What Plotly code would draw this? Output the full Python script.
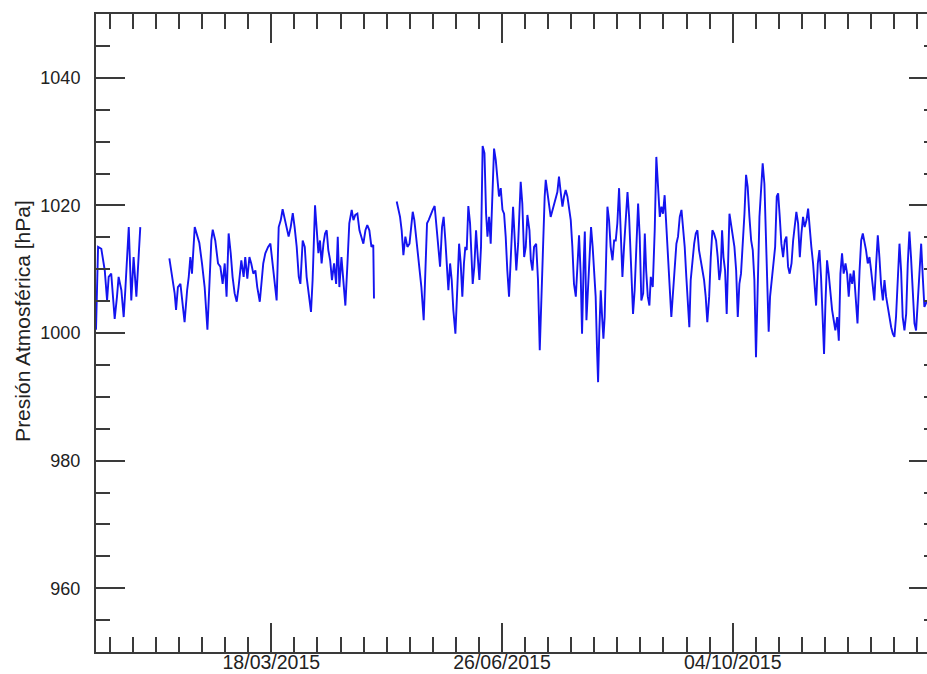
import plotly.graph_objects as go
import pandas as pd

# ---- data (day offsets from 2015-01-01, pressure in hPa) ----
start_date = "2015-01-01"

seg1_days = [0, 0.9, 2.3, 3.8, 4.8, 5.5, 6.6, 8.1, 9.1, 9.8, 11, 12, 12.7, 14.2, 15.3, 16.3, 17.5, 19.2]
seg1_hpa = [1000.5, 1013.5, 1013.2, 1009.8, 1005.1, 1008.8, 1009.3, 1002.2, 1005.7, 1008.8, 1006.7, 1002.5,
            1006.7, 1016.6, 1005.1, 1011.9, 1005.7, 1016.6]

seg2_days = [31.8, 32.9, 34.1, 34.7, 35.5, 36.6, 37.3, 38.4, 39.5, 40.2, 40.9, 41.6, 42.8, 43.8, 44.8, 45.95,
             47.1, 48.3, 49.1, 50, 50.6, 51.7, 52.9, 53.9, 54.9, 55.8, 56.6, 57.5, 58.4, 59.2, 60.1, 61, 61.8,
             63, 64, 64.7, 65.6, 66.5, 67.3, 68.2, 69.1, 69.9, 71, 71.7, 72.5, 73.4, 74.6, 75.6, 76.6, 77.5,
             78.3, 79.2, 80.1, 80.9, 81.8, 82.7, 83.5, 84.4, 85.3, 86.1, 87, 87.9, 88.6,
             89.6, 90.5, 91.3, 92.2, 93.2, 93.9, 94.95, 95.7, 96.4, 97.1, 97.8, 98.6, 99.3, 100, 100.7, 101.5,
             102.3, 103.2, 104.1, 104.8, 105.5, 106.4, 107.2, 108.1, 109, 109.8, 110.85, 111.6, 112.4, 113.3,
             114.2, 115, 115.9, 116.8, 117.6, 118.5, 119.4, 120.2, 120.5]
seg2_hpa = [1011.7, 1008.8, 1006.2, 1003.6, 1007.2, 1007.7, 1005.1, 1001.7, 1006.7, 1008.8, 1011.9, 1009.3,
            1016.6, 1015.1, 1014.1, 1010.9, 1007.2, 1000.5, 1008.3, 1014.5, 1016.2, 1014.5, 1010.9, 1010.4,
            1007.7, 1010.9, 1005.7, 1015.6, 1012.5, 1008.8, 1006.2, 1004.9, 1007.2, 1011.4, 1008.8, 1011.9,
            1008.5, 1011.9, 1010.9, 1009.3, 1009.8, 1007.2, 1004.9, 1007.7, 1010.9, 1012.5, 1013.5, 1014.0,
            1010.4, 1007.7, 1005.1, 1016.6, 1017.7, 1019.4, 1017.7, 1016.1, 1015.1, 1016.6, 1018.8, 1016.6,
            1013.5, 1008.8, 1007.7,
            1014.5, 1013.5, 1008.8, 1006.2, 1003.3, 1008.3, 1020.0, 1016.1, 1012.5, 1014.5, 1010.9, 1014.0,
            1015.6, 1016.1, 1013.0, 1011.4, 1008.3, 1010.9, 1007.7, 1015.1, 1007.2, 1011.9, 1008.8, 1004.3,
            1010.9, 1017.2, 1019.3, 1017.7, 1018.5, 1018.7, 1016.1, 1015.1, 1014.0, 1016.1, 1016.9, 1016.1,
            1013.5, 1013.8, 1005.4]

seg3_days = [130.35, 131.1, 131.8, 132.5, 133.25, 134.1, 135, 135.9, 136.6, 137.3, 138, 138.7, 139.5, 140.2,
             141.05, 142.05, 142.8, 143.5, 144.2, 145.1, 145.96, 146.8, 147.7, 148.6, 149.15, 150, 150.7,
             151.45, 152, 152.75, 153.5, 154.2, 154.9, 155.8, 156.7, 157.4, 158.1, 158.8, 159.5, 160.1, 160.7,
             161.4, 162.15, 162.7, 163.3, 164, 164.75, 165.5, 166.2, 166.9, 167.6, 168.4, 169.1, 169.7, 170.4,
             171.1, 171.8, 172.55, 173.3, 174, 174.7, 175.45, 176.2, 176.9, 177.6, 178.3, 179.05,
             180.8, 181.5, 182.2, 183, 184.1, 184.8, 185.6, 186.3, 187, 187.9, 188.5, 189.2, 189.9, 190.8,
             191.6, 192.36, 193.1, 193.8, 194.5, 194.96, 196, 197.1, 200, 200.7, 201.5, 202.2, 202.9, 203.6,
             204.35, 205.1, 205.8, 206.5, 207.2, 208, 208.7, 209.4, 210.1, 210.7, 211.4, 211.9, 212.6, 213.3,
             214, 214.6, 215.3, 215.9, 216.6, 217.2, 217.65, 218.2, 218.8, 219.4, 219.96, 220.5, 221.1, 221.7,
             222.4, 223.1, 223.9, 224.6, 225.3, 226, 226.75, 227.5, 228.2, 228.9, 229.6, 230.4, 231.1, 231.8,
             232.4, 232.8, 233.5, 234.3, 235, 235.7, 236.4, 237.2, 237.9, 238.5, 239.2, 239.9, 240.5, 241.35,
             242.2, 242.9, 243.7, 244.4, 245.1, 245.8, 246.5, 247.3, 248, 248.7, 249.4, 250.2, 250.9, 251.6,
             252.3, 253.05, 253.8, 254.5, 255.2, 255.9, 256.7, 257.2, 257.8, 258.5, 259.3, 260, 260.7, 261.4,
             262.2, 262.9, 263.6, 264.3, 265, 265.8, 266.5, 267.2, 267.9,
             268.8, 269.5, 270.2, 270.8, 271.4, 272, 272.7, 273.4, 274, 274.6, 276.75, 277.5, 278.2, 278.9,
             279.6, 280.4, 281.1, 281.8, 282.5, 283.25, 284, 284.7, 285.4, 286.1, 286.9, 287.6, 288.3, 289,
             289.75, 290.5, 291.2, 291.6, 292.2, 292.9, 293.65, 294.4, 295.1, 295.7, 296.4, 297.1, 297.85,
             298.6, 299.3, 300, 300.7, 301.5, 302.2, 302.9, 303.6, 304.35, 305.1, 305.8, 306.5, 307.2, 308,
             308.7, 309.4, 310.1, 310.85, 311.6, 312.15, 312.9, 313.6, 314.3, 315, 315.6, 316.2, 316.9, 317.6,
             318.4, 319.1, 319.8, 320.5, 321.3, 322, 322.7, 323.4, 324.1, 324.9, 325.6, 326.3, 327, 327.8,
             328.5, 329.2, 330.1, 331, 331.7, 332.4, 333.1, 333.8, 334.55, 335.3, 336, 336.7, 337.4, 338.2,
             338.9, 339.6, 340.3, 341.1, 341.8, 342.5, 343.2, 344, 344.7, 345.4, 346.1, 346.8, 347.6, 348.3,
             349, 349.7, 350.45, 351.2, 351.9, 352.6, 353.3, 354.05, 354.8, 355.5, 356.2, 357, 357.7, 358.4,
             359.1, 360.3]
seg3_hpa = [1020.6, 1019.3, 1018.2, 1016.1, 1012.2, 1015.1, 1013.5, 1014.0, 1017.2, 1019.0, 1017.7, 1015.1,
            1013.0, 1009.8, 1007.2, 1002.0, 1009.3, 1017.2, 1017.7, 1018.7, 1019.3, 1019.9, 1016.1, 1011.4,
            1010.4, 1016.6, 1018.2, 1014.5, 1010.9, 1006.7, 1010.9, 1008.3, 1003.6, 999.9, 1007.7, 1014.0,
            1010.9, 1005.7, 1010.9, 1013.5, 1013.0, 1019.9, 1017.2, 1010.9, 1007.7, 1010.4, 1016.1, 1011.9,
            1008.3, 1013.5, 1029.3, 1028.2, 1018.7, 1015.1, 1018.2, 1014.0, 1021.4, 1028.9, 1027.1, 1023.4,
            1021.4, 1022.7, 1019.3, 1018.7, 1015.1, 1009.8, 1005.7,
            1019.8, 1015.6, 1009.8, 1014.0, 1023.7, 1020.3, 1011.9, 1013.5, 1018.5, 1016.1, 1011.4, 1009.8,
            1013.5, 1014.0, 1008.3, 997.3, 1005.7, 1016.1, 1021.4, 1024.0, 1021.4, 1018.2, 1022.1, 1024.5,
            1021.9, 1019.8, 1021.4, 1022.4, 1021.4, 1019.3, 1017.7, 1013.5, 1007.7, 1005.7, 1011.4, 1015.3,
            1009.3, 999.9, 1010.9, 1015.9, 1002.0, 1007.2, 1011.9, 1016.6, 1013.5, 1009.8, 1005.7, 997.3,
            992.3, 1000.4, 1006.7, 1002.5, 999.1, 1002.5, 1011.9, 1019.8, 1017.7, 1013.5, 1011.4, 1014.5,
            1014.5, 1017.2, 1022.7, 1014.5, 1008.8, 1013.5, 1017.7, 1022.1, 1018.2, 1010.9, 1006.7, 1003.0,
            1006.7, 1014.0, 1020.3, 1015.1, 1005.1, 1006.2, 1015.6, 1009.8, 1005.7, 1004.3, 1008.8, 1007.2,
            1016.1, 1027.6, 1022.4, 1018.2, 1019.8, 1018.7, 1021.6, 1016.6, 1011.9, 1007.2, 1002.5, 1006.7,
            1009.8, 1014.0, 1015.1, 1018.2, 1019.3, 1016.6, 1013.5, 1008.8, 1004.6, 1000.9, 1008.3, 1011.4,
            1014.0, 1015.6, 1016.1, 1013.0, 1010.9, 1009.8, 1008.3, 1005.7, 1001.7, 1005.7, 1011.9, 1016.1,
            1015.6,
            1014.5, 1011.9, 1008.3, 1009.8, 1016.1, 1011.9, 1009.8, 1003.0, 1010.9, 1018.7, 1013.5, 1009.8,
            1002.5, 1007.7, 1009.3, 1013.5, 1018.7, 1024.8, 1022.9, 1018.2, 1014.5, 1013.0, 1008.3, 996.2,
            1008.3, 1018.2, 1022.4, 1026.6, 1023.4, 1015.1, 1004.6, 1000.2, 1005.7, 1008.3, 1010.9, 1013.5,
            1021.4, 1021.9, 1018.2, 1014.0, 1011.9, 1014.5, 1015.1, 1010.4, 1009.3, 1010.9, 1014.5, 1017.2,
            1019.0, 1017.2, 1011.9, 1015.6, 1018.2, 1016.6, 1017.7, 1019.5, 1016.1, 1013.5, 1010.9, 1006.7,
            1004.3, 1010.9, 1013.0, 1008.8, 1003.0, 996.7, 1004.6, 1011.4, 1009.3, 1005.7, 1003.6, 1002.0,
            1000.4, 1002.5, 998.8, 1009.3, 1012.5, 1009.3, 1010.9, 1009.3, 1005.7, 1009.3, 1007.7, 1009.8,
            1006.7, 1001.5, 1009.8, 1014.5, 1015.6, 1014.5, 1013.0, 1010.9, 1011.9, 1009.8, 1007.2, 1005.1,
            1010.9, 1015.3, 1011.9, 1007.7, 1005.1, 1008.3, 1005.7, 1004.1, 1002.5, 1000.9, 999.9, 999.4,
            1002.5, 1008.8, 1014.0, 1009.8, 1002.5, 1000.4, 1003.0, 1010.9, 1015.9, 1011.9, 1005.7, 1001.5,
            1000.4, 1004.6, 1010.9, 1014.0, 1008.8, 1004.1, 1005.1]

x_range_days = [0, 365]
major_tick_start = "2015-03-18"
major_tick_days = 100
minor_tick_start = "2015-01-07"
minor_tick_days = 10
y_title = "Presión Atmosférica [hPa]"

# ---- build series with gaps ----
t0 = pd.Timestamp(start_date)
xs, ys = [], []
for days, vals in [(seg1_days, seg1_hpa), (seg2_days, seg2_hpa), (seg3_days, seg3_hpa)]:
    xs += [t0 + pd.Timedelta(days=d) for d in days] + [None]
    ys += list(vals) + [None]

fig = go.Figure()
fig.add_trace(go.Scatter(x=xs, y=ys, mode="lines", connectgaps=False,
                         line=dict(color="rgb(20,20,240)", width=1.9),
                         showlegend=False, hoverinfo="skip"))

axis_col = "#3a3a3a"
text_col = "#222222"
font_fam = "Liberation Sans, Arial, sans-serif"
DAY_MS = 86400000

fig.update_layout(
    width=940, height=674,
    margin=dict(l=96, r=2, t=14, b=22, autoexpand=False),
    paper_bgcolor="white", plot_bgcolor="white",
    font=dict(family=font_fam, color=text_col),
    showlegend=False,
)
fig.update_xaxes(
    type="date", automargin=False,
    range=[t0 + pd.Timedelta(days=x_range_days[0]), t0 + pd.Timedelta(days=x_range_days[1])],
    showgrid=False, zeroline=False,
    showline=True, linecolor=axis_col, linewidth=2, mirror="allticks",
    ticks="inside", ticklen=29, tickwidth=1.5, tickcolor=axis_col,
    tick0=major_tick_start, dtick=major_tick_days * DAY_MS, tickformat="%d/%m/%Y",
    ticklabelstandoff=-8,
    tickfont=dict(size=19.5, family=font_fam, color=text_col),
    minor=dict(ticks="inside", ticklen=15, tickwidth=1.5, tickcolor=axis_col,
               tick0=minor_tick_start, dtick=minor_tick_days * DAY_MS, showgrid=False),
)
fig.update_yaxes(
    range=[950, 1050], automargin=False,
    showgrid=False, zeroline=False,
    showline=True, linecolor=axis_col, linewidth=2, mirror="allticks",
    ticks="inside", ticklen=29, tickwidth=2, tickcolor=axis_col,
    tick0=0, dtick=20, ticklabelstandoff=10,
    tickfont=dict(size=18, family=font_fam, color=text_col),
    minor=dict(ticks="inside", ticklen=14, tickwidth=2, tickcolor=axis_col, dtick=5, showgrid=False),
)
fig.add_annotation(
    text=y_title, textangle=-90, showarrow=False,
    xref="paper", yref="paper", x=-0.0867, y=0.519,
    xanchor="center", yanchor="middle",
    font=dict(size=21, family=font_fam, color=text_col),
)

fig.write_html("out.html", post_script="document.documentElement.style.overflow='hidden';document.body.style.overflow='hidden';")
